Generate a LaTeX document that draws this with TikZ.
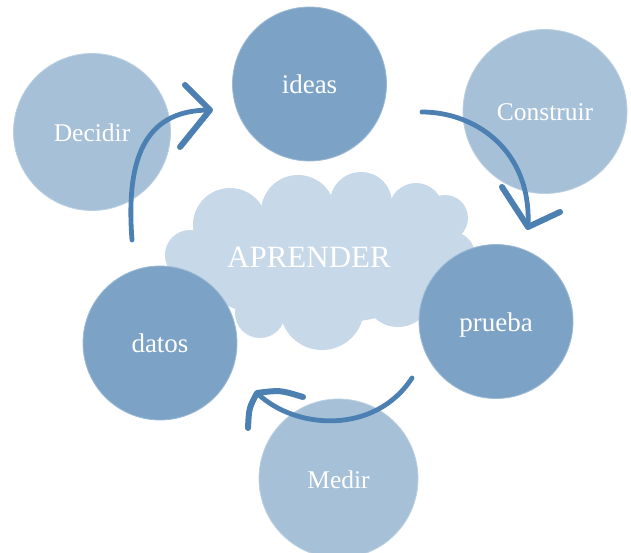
\documentclass[tikz,border=0pt]{standalone}
\usepackage{fontspec}
\setmainfont{Liberation Serif}
\definecolor{darkc}{RGB}{124,163,198}
\definecolor{lightc}{RGB}{166,192,216}
\definecolor{cloudc}{RGB}{199,216,232}
\definecolor{arrowc}{RGB}{76,128,178}
\begin{document}
\begin{tikzpicture}[x=1pt,y=-1pt,
  bubble/.style={circle, inner sep=0pt, text=white, text height=19pt, text depth=0pt, line width=0.8pt},
  darkbub/.style={bubble, fill=darkc, draw=darkc!75!white, font=\fontsize{27}{30}\selectfont},
  lightbub/.style={bubble, fill=lightc, draw=lightc!75!white, font=\fontsize{25.5}{30}\selectfont},
  puff/.style={fill=cloudc},
  flow/.style={draw=arrowc, line width=4.8pt, line cap=round, line join=round},
  head/.style={draw=arrowc, line width=6pt, line cap=round, line join=round}]
\fill[white] (0,0) rectangle (631,553);
\useasboundingbox (0,0) rectangle (631,553);
% cloud
\begin{scope}[puff]
  \fill (320,262) ellipse (130pt and 62pt);
  \fill (190,255) circle (25pt);
  \fill (230,225) circle (37pt);
  \fill (298,212) circle (37pt);
  \fill (361,203) circle (31pt);
  \fill (416,210) circle (27pt);
  \fill (445,218) circle (23pt);
  \fill (452,255) circle (23pt);
  \fill (260,313) circle (25pt);
  \fill (322,308) circle (42pt);
  \fill (398,293) circle (34pt);
  \fill (200,290) circle (28pt);
\end{scope}
\node[text=white, font=\fontsize{31}{34}\selectfont, anchor=base] (aprender) at (309,267) {APRENDER};
% circles
\node[lightbub, minimum size=157pt] (decidir) at (92,132) {Decidir};
\node[darkbub, minimum size=154pt] (ideas) at (309.5,84) {ideas};
\node[lightbub, minimum size=164pt] (construir) at (545,111.5) {Construir};
\node[darkbub, minimum size=154pt] (prueba) at (496,321.5) {prueba};
\node[darkbub, minimum size=154pt] (datos) at (160,343) {datos};
\node[lightbub, minimum size=159pt] (medir) at (338.5,478.5) {Medir};
% arrow 1: Decidir -> ideas
\coordinate (a1s) at (132,240);
\coordinate (a1t) at (210,110);
\coordinate (a1u) at (185,85);
\coordinate (a1l) at (180,147);
\draw[flow] (a1s) .. controls (125,150) and (150,110) .. (a1t);
\draw[head] (a1u) -- (a1t) -- (a1l);
% arrow 2: ideas -> prueba
\coordinate (a2s) at (422,112);
\coordinate (a2t) at (528,227);
\coordinate (a2u) at (502,187);
\coordinate (a2r) at (560,212);
\draw[flow] (a2s) .. controls (475,112) and (532,150) .. (a2t);
\draw[head] (a2u) -- (a2t) -- (a2r);
% arrow 3: prueba -> datos
\coordinate (a3s) at (412,378);
\coordinate (a3t) at (257,393);
\coordinate (a3r) at (303,397);
\coordinate (a3d) at (248,428);
\draw[flow] (a3s) .. controls (375,435) and (295,430) .. (a3t);
\draw[head] (a3r) .. controls (280,390) .. (a3t) .. controls (249,408) .. (a3d);
\end{tikzpicture}
\end{document}
